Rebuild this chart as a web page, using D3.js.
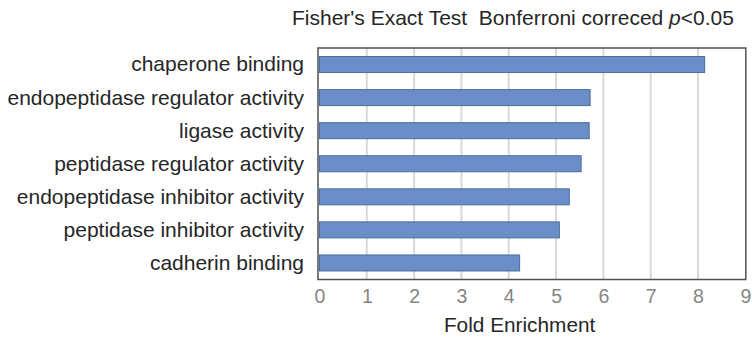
<!DOCTYPE html>
<html>
<head>
<meta charset="utf-8">
<script src="https://cdn.jsdelivr.net/npm/d3@7"></script>
<style>
  html, body { margin: 0; padding: 0; background: #ffffff; }
  svg { display: block; font-family: Arial, "Liberation Sans", sans-serif; }
</style>
</head>
<body>
<svg id="chart" width="752" height="342"></svg>
<script>
// GO molecular function terms, top to bottom
const categories = [
  "chaperone binding",
  "endopeptidase regulator activity",
  "ligase activity",
  "peptidase regulator activity",
  "endopeptidase inhibitor activity",
  "peptidase inhibitor activity",
  "cadherin binding"
];
// Fold enrichment for each term
const foldEnrichment = [8.14, 5.72, 5.70, 5.53, 5.28, 5.07, 4.23];
// x-axis ticks
const xTicks = [0, 1, 2, 3, 4, 5, 6, 7, 8, 9];

const svg = d3.select("#chart");
const plot = { left: 319.5, right: 745.3, top: 48, bottom: 279.5 };

const x = d3.scaleLinear().domain([0, 9]).range([plot.left, plot.right]);
const y = d3.scaleBand()
  .domain(categories)
  .range([plot.top, plot.bottom])
  .paddingInner(0.516)
  .paddingOuter(0.258);

// vertical gridlines
svg.append("g")
  .selectAll("line")
  .data(xTicks.filter(t => t > 0 && t < 9))
  .join("line")
  .attr("x1", d => x(d)).attr("x2", d => x(d))
  .attr("y1", plot.top).attr("y2", plot.bottom)
  .attr("stroke", "#d9d9d9")
  .attr("stroke-width", 2);

// bars
svg.append("g")
  .selectAll("rect")
  .data(categories.map((c, i) => ({ c, v: foldEnrichment[i] })))
  .join("rect")
  .attr("x", x(0))
  .attr("y", d => y(d.c))
  .attr("width", d => x(d.v) - x(0))
  .attr("height", y.bandwidth())
  .attr("fill", "#6a8fc8")
  .attr("stroke", "#4c6c9c")
  .attr("stroke-width", 1);

// plot frame
svg.append("rect")
  .attr("x", plot.left - 1.5)
  .attr("y", plot.top)
  .attr("width", plot.right - plot.left + 2)
  .attr("height", plot.bottom - plot.top)
  .attr("fill", "none")
  .attr("stroke", "#505050")
  .attr("stroke-width", 1.5);

// category labels
svg.append("g")
  .selectAll("text")
  .data(categories)
  .join("text")
  .attr("x", 304)
  .attr("y", d => y(d) + y.bandwidth() / 2)
  .attr("dy", "0.33em")
  .attr("text-anchor", "end")
  .attr("font-size", 21)
  .attr("fill", "#262626")
  .text(d => d);

// x-axis tick labels
const xAxis = d3.axisBottom(x).tickValues(xTicks).tickSize(0).tickPadding(0).tickFormat(d3.format("d"));
const gx = svg.append("g")
  .attr("transform", `translate(0,${plot.bottom})`)
  .call(xAxis);
gx.select(".domain").remove();
gx.selectAll("text")
  .attr("y", 10)
  .attr("dy", "0.71em")
  .attr("font-size", 19.5)
  .attr("font-family", "Arial, 'Liberation Sans', sans-serif")
  .attr("fill", "#858585");

// axis title
svg.append("text")
  .attr("x", x(4.23))
  .attr("y", 332)
  .attr("text-anchor", "middle")
  .attr("font-size", 20.8)
  .attr("fill", "#262626")
  .text("Fold Enrichment");

// chart title
const title = svg.append("text")
  .attr("x", 292)
  .attr("y", 25)
  .attr("font-size", 21)
  .attr("fill", "#262626")
  .style("white-space", "pre");
title.append("tspan").text("Fisher's Exact Test  Bonferroni correced ");
title.append("tspan").attr("font-style", "italic").text("p");
title.append("tspan").text("<0.05");
</script>
</body>
</html>
